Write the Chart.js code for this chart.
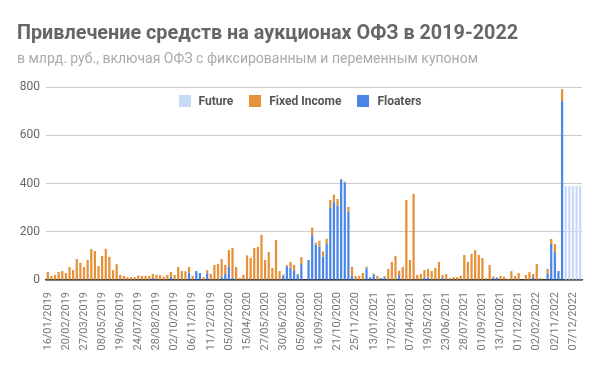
<!DOCTYPE html>
<html>
<head>
<meta charset="utf-8">
<script src="https://cdn.jsdelivr.net/npm/chart.js@4/dist/chart.umd.min.js"></script>
<style>
  body { margin: 0; background: #fff; font-family: Roboto, sans-serif; }
  #wrap { position: relative; width: 600px; height: 371px; }
  #title { position: absolute; left: 17px; top: 21px; font-size: 19.8px; font-weight: bold; color: #666; white-space: nowrap; }
  #subtitle { position: absolute; left: 17px; top: 50px; font-size: 14px; color: #aaa; white-space: nowrap; }
  #legend { position: absolute; left: 0; top: 94px; width: 600px; display: flex; justify-content: center; gap: 16px;
            font-size: 12px; font-weight: bold; color: #555; }
  #legend span.item { display: flex; align-items: center; }
  #legend span.box { display: inline-block; width: 12px; height: 12px; margin-right: 8px; }
  canvas { position: absolute; left: 0; top: 0; }
</style>
</head>
<body>
<div id="wrap">
  <canvas id="myChart" width="600" height="371"></canvas>
  <div id="title">Привлечение средств на аукционах ОФЗ в 2019-2022</div>
  <div id="subtitle">в млрд. руб., включая ОФЗ с фиксированным и переменным купоном</div>
  <div id="legend"></div>
</div>
<script>
// every 5th auction date is shown on the axis
var tickLabels = ["16/01/2019", "20/02/2019", "27/03/2019", "08/05/2019", "19/06/2019", "24/07/2019",
    "28/08/2019", "02/10/2019", "06/11/2019", "11/12/2019", "05/02/2020", "15/04/2020", "27/05/2020",
    "30/06/2020", "05/08/2020", "16/09/2020", "21/10/2020", "25/11/2020", "13/01/2021", "17/02/2021",
    "07/04/2021", "19/05/2021", "23/06/2021", "28/07/2021", "01/09/2021", "13/10/2021", "01/12/2021",
    "02/02/2022", "02/11/2022", "07/12/2022"];

var fixedIncome = [
    33, 17, 21, 33, 37, 29, 54, 41, 87, 71,
    54, 83, 129, 120, 58, 100, 129, 96, 41, 66,
    21, 17, 12, 12, 12, 19, 17, 17, 17, 17,
    21, 19, 14, 21, 19, 21, 54, 37, 36, 24,
    17, 0, 0, 12, 13, 25, 62, 66, 72, 37,
    69, 123, 54, 8, 21, 102, 91, 133, 137, 187,
    83, 116, 50, 166, 37, 5, 7, 25, 22, 5,
    29, 0, 0, 32, 7, 25, 21, 22, 32, 29,
    28, 3, 4, 20, 37, 17, 17, 29, 7, 0,
    5, 17, 0, 7, 46, 75, 100, 19, 54, 332,
    83, 357, 21, 25, 33, 36, 37, 50, 75, 11,
    25, 8, 12, 12, 17, 104, 75, 108, 124, 104,
    91, 8, 62, 7, 0, 17, 14, 5, 37, 17,
    29, 0, 21, 33, 13, 66, 8, 0, 21, 21,
    33, 0, 49, 0, 0, 0, 0, 0];

var floaters = [
    0, 0, 0, 0, 0, 0, 0, 0, 0, 0,
    0, 0, 0, 0, 0, 0, 0, 0, 0, 0,
    0, 0, 0, 0, 0, 0, 0, 0, 0, 8,
    0, 0, 0, 0, 14, 0, 0, 0, 0, 30,
    0, 37, 29, 0, 28, 0, 0, 0, 15, 25,
    55, 10, 0, 0, 0, 0, 0, 0, 0, 0,
    0, 0, 0, 0, 0, 18, 55, 50, 40, 20,
    66, 0, 83, 185, 148, 138, 97, 149, 300, 325,
    308, 416, 404, 283, 17, 0, 0, 0, 48, 11,
    22, 0, 8, 10, 0, 0, 0, 20, 0, 0,
    0, 0, 0, 0, 8, 10, 0, 0, 0, 10,
    0, 0, 0, 0, 0, 0, 0, 0, 0, 0,
    0, 0, 0, 8, 10, 0, 0, 0, 0, 0,
    0, 0, 0, 0, 12, 0, 0, 0, 25, 149,
    116, 37, 742, 0, 0, 0, 0, 0];

var future = [];
for (var i = 0; i < 143; i++) future.push(null);
future.push(390, 390, 390, 390, 390);

var categories = fixedIncome.map(function (v, i) {
    return i % 5 === 0 ? tickLabels[i / 5] : '';
});

var colors = { future: '#c6daf8', fixed: '#e69138', floaters: '#4a86e8' };

var data = {
    labels: categories,
    datasets: [{
        label: 'Floaters',
        backgroundColor: colors.floaters,
        data: floaters
    }, {
        label: 'Fixed Income',
        backgroundColor: colors.fixed,
        data: fixedIncome
    }, {
        label: 'Future',
        backgroundColor: colors.future,
        data: future
    }]
};

var options = {
    responsive: false,
    animation: false,
    layout: { padding: { top: 87, right: 18, left: 0, bottom: 0 } },
    datasets: { bar: { barPercentage: 0.62, categoryPercentage: 1 } },
    plugins: { legend: { display: false }, tooltip: { enabled: false } },
    scales: {
        x: {
            stacked: true,
            grid: { display: false },
            border: { color: '#333', width: 1.5 },
            ticks: {
                autoSkip: false, maxRotation: 90, minRotation: 90, padding: 4,
                color: '#777', font: { family: 'Roboto', size: 11 }
            },
            afterFit: function (scale) { scale.height = 91; }
        },
        y: {
            stacked: true,
            min: 0, max: 800,
            border: { display: false },
            grid: { color: '#ccc', drawTicks: false },
            ticks: { stepSize: 200, padding: 6, color: '#666', font: { family: 'Roboto', size: 12 } },
            afterFit: function (scale) { scale.width = 46; }
        }
    }
};

var ctx = document.getElementById('myChart').getContext('2d');
var chart = new Chart(ctx, { type: 'bar', data: data, options: options });

// legend in Google order
var legendItems = [['Future', colors.future], ['Fixed Income', colors.fixed], ['Floaters', colors.floaters]];
document.getElementById('legend').innerHTML = legendItems.map(function (it) {
    return '<span class="item"><span class="box" style="background:' + it[1] + '"></span>' + it[0] + '</span>';
}).join('');
</script>
</body>
</html>
